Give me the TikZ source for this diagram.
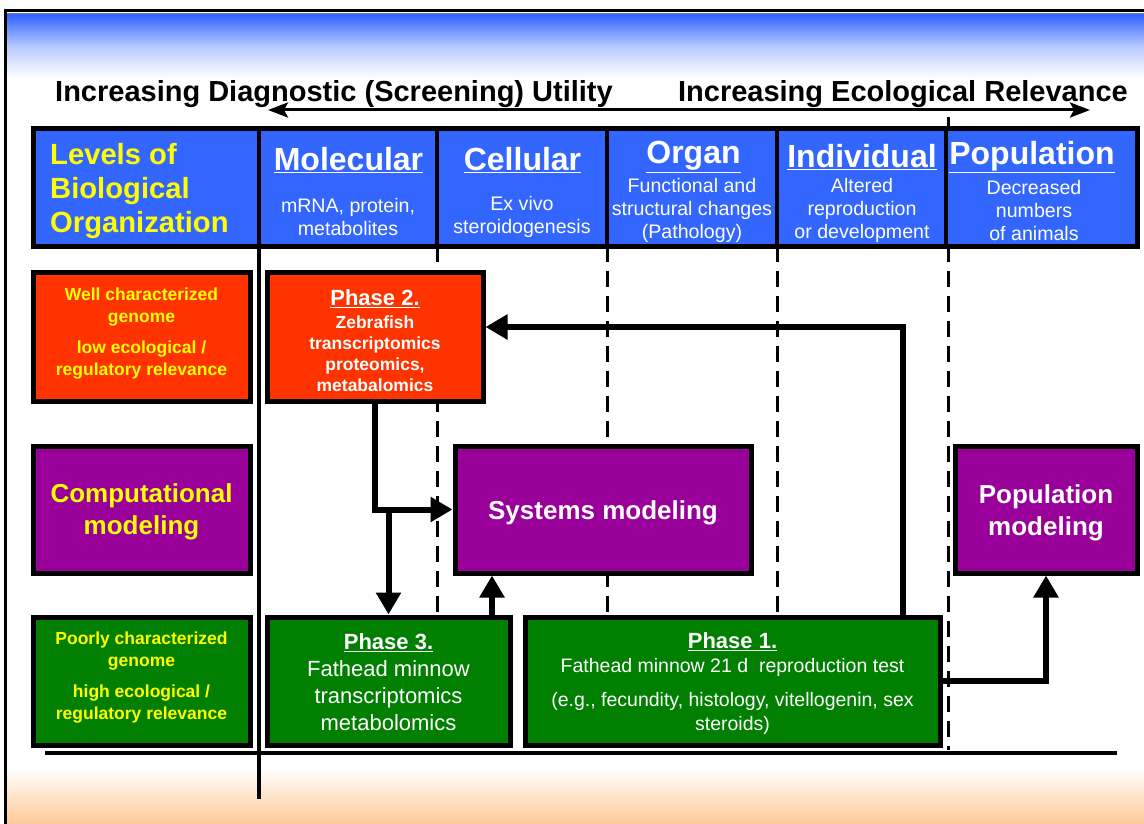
\documentclass[tikz,border=0pt]{standalone}
\usepackage{fontspec}
\setmainfont{Liberation Sans}
\usetikzlibrary{arrows.meta}
\definecolor{hdrblue}{HTML}{3366FF}
\definecolor{boxred}{HTML}{FF3300}
\definecolor{boxpurple}{HTML}{990099}
\definecolor{boxgreen}{HTML}{007F00}
\definecolor{txtyellow}{HTML}{FFFF00}
\definecolor{fadeorange}{HTML}{FFC996}
\newcommand\fsz[2]{\fontsize{#1}{#2}\selectfont}
\begin{document}
\begin{tikzpicture}[x=1pt,y=-1pt,
  box/.style={draw=black,line width=5pt,inner sep=0pt},
  btxt/.style={inner sep=0pt,align=center,text=white},
  hcell/.style={draw=black,line width=4pt,fill=hdrblue,inner sep=0pt},
  htitle/.style={text=white,inner sep=0pt,font=\fsz{32}{36}\bfseries},
  hsub/.style={text=white,inner sep=0pt,align=center,font=\fsz{19.6}{23}},
  divline/.style={line width=3pt,dash pattern=on 16pt off 9pt},
  arr/.style={line width=6pt,-{Triangle[length=22pt,width=24pt]}},
  toparr/.style={line width=3pt,{Stealth[length=20pt,width=15pt,inset=4pt]}-{Stealth[length=20pt,width=15pt,inset=4pt]}},
  lefttxt/.style={btxt,text=txtyellow,font=\fsz{17.5}{22}\bfseries},
  modtxt/.style={btxt,font=\fsz{26}{31.5}\bfseries}
]
\useasboundingbox (0,0) rectangle (1144,824);
\fill[white] (0,0) rectangle (1144,824);
% background bands
\shade[top color=hdrblue, bottom color=white, middle color=hdrblue!35] (7,15) rectangle (1144,78);
\shade[top color=white, bottom color=fadeorange] (7,768) rectangle (1144,824);
\draw[line width=3pt] (4,10.5) -- (1144,10.5);
\draw[line width=1pt,gray] (7,14) -- (1144,14);
\draw[line width=3pt] (5.5,9) -- (5.5,824);

% headings
\node[anchor=west,inner sep=0pt,font=\fsz{29}{34}\bfseries] (diag) at (55,94) {Increasing Diagnostic (Screening) Utility};
\node[anchor=east,inner sep=0pt,font=\fsz{29}{34}\bfseries] (eco) at (1128,94) {Increasing Ecological Relevance};
\coordinate (aL) at (268,110);
\coordinate (aR) at (1090,110);
\draw[toparr] (aL) -- (aR);

% grid lines
\draw[line width=4pt] (259,128) -- (259,799);
\draw[divline] (437,246) -- (437,612);
\draw[divline] (607,246) -- (607,612);
\draw[divline] (777,246) -- (777,612);
\draw[line width=3pt] (948,117) -- (948,130);
\draw[divline] (948,246) -- (948,750);
\draw[line width=4pt] (45,753) -- (1117,753);

% header row
\node[hcell,minimum width=226,minimum height=117] (levels) at (146,187.5) {};
\node[hcell,minimum width=178,minimum height=117] (molc) at (348,187.5) {};
\node[hcell,minimum width=170,minimum height=117] (cell) at (522,187.5) {};
\node[hcell,minimum width=170,minimum height=117] (organ) at (692,187.5) {};
\node[hcell,minimum width=169,minimum height=117] (indiv) at (861.5,187.5) {};
\node[hcell,minimum width=191,minimum height=117] (popu) at (1041.5,187.5) {};
\draw[line width=5pt] (33,129) rectangle (1137,246);

\node[anchor=west,inner sep=0pt,align=left,text=txtyellow,font=\fsz{29.2}{34}\bfseries] (levt) at (50,191.5) {Levels of\\Biological\\Organization};
\node[htitle] (tmol) at (348.5,160) {\underline{Molecular}};
\node[htitle] (tcel) at (522.5,160) {\underline{Cellular}};
\node[htitle] (torg) at (693.5,157) {\underline{Organ}};
\node[htitle] (tind) at (862,157) {\underline{Individual}};
\node[htitle] (tpop) at (1032,157) {\underline{Population}};
\node[hsub] (smol) at (348,217) {mRNA, protein,\\metabolites};
\node[hsub] (scel) at (522,217) {Ex vivo\\steroidogenesis};
\node[hsub] (sorg) at (692,210.5) {Functional and\\structural changes\\(Pathology)};
\node[hsub] (sind) at (862,210.5) {Altered\\reproduction\\or development};
\node[hsub] (spop) at (1034,210.5) {Decreased\\numbers\\of animals};

% left column
\node[box,fill=boxred,minimum width=217,minimum height=129] (wellg) at (141.5,336.5) {};
\node[lefttxt] (wellt) at (141.5,334) {Well characterized\\genome\\[9pt]low ecological /\\regulatory relevance};
\node[box,fill=boxpurple,minimum width=217,minimum height=127] (comp) at (141.5,509.5) {};
\node[modtxt,text=txtyellow] (compt) at (141.5,512) {Computational\\modeling};
\node[box,fill=boxgreen,minimum width=217,minimum height=128] (poorg) at (141.5,681) {};
\node[lefttxt] (poort) at (141.5,678) {Poorly characterized\\genome\\[9pt]high ecological /\\regulatory relevance};

% phase boxes
\node[box,fill=boxred,minimum width=216,minimum height=129] (p2) at (375,336.5) {};
\node[btxt,font=\fsz{17.5}{21.3}\bfseries] (p2t) at (375,341) {{\fsz{22}{24}\underline{Phase 2.}}\\[1pt]Zebrafish\\transcriptomics\\proteomics,\\metabalomics};
\node[box,fill=boxpurple,minimum width=296,minimum height=127] (sys) at (603,509.5) {};
\node[modtxt] (syst) at (603,512.5) {Systems modeling};
\node[box,fill=boxpurple,minimum width=182,minimum height=127] (popm) at (1046,509.5) {};
\node[modtxt,font=\fsz{26}{32}\bfseries] (popmt) at (1046,512.5) {Population\\modeling};
\node[box,fill=boxgreen,minimum width=243,minimum height=128] (p3) at (388.5,681) {};
\node[btxt,font=\fsz{22}{27}] (p3t) at (388.5,682) {{\bfseries\underline{Phase 3.}}\\Fathead minnow\\transcriptomics\\metabolomics};
\node[box,fill=boxgreen,minimum width=415,minimum height=128] (p1) at (732.5,681) {};
\node[btxt,font=\fsz{19.5}{24}] (p1t) at (732.5,684) {{\fsz{22}{25}\bfseries\underline{Phase 1.}}\\Fathead minnow 21 d\ \ reproduction test\\[10pt](e.g., fecundity, histology, vitellogenin, sex\\steroids)};

% connectors
\coordinate (c903) at (903,0);
\coordinate (c492) at (492,0);
\coordinate (y327) at (0,327);
\draw[line width=6pt,line join=miter] (p1.north -| c903) -- (c903 |- y327) -- ([xshift=12pt]p2.east |- y327);
\draw[arr] (c903 |- y327) -- (p2.east |- y327);
\draw[line width=6pt,line join=miter] (p2.south) |- ([xshift=-20pt]sys.west);
\draw[arr] (p2.south |- sys.west) -- (sys.west);
\draw[arr] (p3.north |- sys.west) -- (p3.north);
\draw[arr] (p3.north -| c492) -- (sys.south -| c492);
\draw[line width=6pt,line join=miter] (p1.east) -| ([yshift=-20pt]popm.south);
\draw[arr] (popm.south |- p1.east) -- (popm.south);
\end{tikzpicture}
\end{document}
